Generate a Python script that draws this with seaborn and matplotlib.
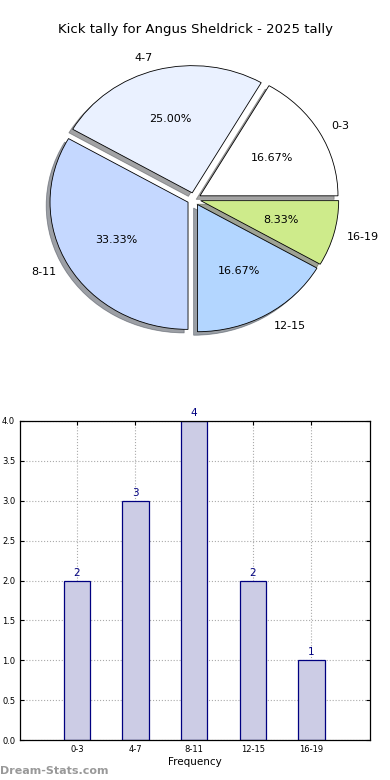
import matplotlib
matplotlib.use("Agg")
import matplotlib.pyplot as plt
import seaborn as sns

# data
categories = ["0-3", "4-7", "8-11", "12-15", "16-19"]
tally = [2, 3, 4, 2, 1]
pie_colors = ["#FFFFFF", "#EAF1FF", "#C5D8FF", "#B3D6FF", "#CEEB8B"]
yticks = [0.0, 0.5, 1.0, 1.5, 2.0, 2.5, 3.0, 3.5, 4.0]

sns.set_style("white")
plt.rcParams["font.family"] = ["DejaVu Sans"]
plt.rcParams["text.color"] = "black"
plt.rcParams["axes.labelcolor"] = "black"
plt.rcParams["xtick.color"] = "black"
plt.rcParams["ytick.color"] = "black"

W, H = 390, 780
fig = plt.figure(figsize=(W / 100, H / 100), dpi=100)

# pie chart (slightly squashed, like the original)
pw, ph = 345, 318
cx, cy = 194, 199
ax1 = fig.add_axes([(cx - pw / 2) / W, (H - cy - ph / 2) / H, pw / W, ph / H])
ax1.pie(tally, labels=categories, colors=pie_colors, explode=[0.05] * 5,
        autopct="%.2f%%", shadow=True, startangle=0,
        wedgeprops=dict(edgecolor="black", linewidth=0.6),
        textprops=dict(fontsize=8))
ax1.set_aspect("auto")
ax1.set_xlim(-1.25, 1.25)
ax1.set_ylim(-1.25, 1.25)
fig.text(0.5, 1 - 30 / H, "Kick tally for Angus Sheldrick - 2025 tally",
         ha="center", va="center", fontsize=9.5)

# bar chart
left, right, top, bottom = 20, 370, 421, 740
ax2 = fig.add_axes([left / W, (H - bottom) / H, (right - left) / W, (bottom - top) / H])
sns.barplot(x=categories, y=tally, ax=ax2, color="#CCCCE5", saturation=1,
            edgecolor="navy", linewidth=0.9, width=0.45, zorder=2)
ax2.set_xlim(-0.97, 5.0)
ax2.set_ylim(0, 4)
ax2.set_yticks(yticks)
ax2.set_yticklabels([f"{v:.1f}" for v in yticks])
ax2.grid(True, linestyle=":", color="#AAAAAA", linewidth=0.8, zorder=0)
ax2.set_axisbelow(True)
for s in ax2.spines.values():
    s.set_color("black")
    s.set_linewidth(0.9)
ax2.tick_params(axis="both", labelsize=6, direction="in", length=3,
                top=True, right=True, bottom=True, left=True)
ax2.set_xlabel("Frequency", fontsize=7.5, labelpad=2)
ax2.set_ylabel("")
for c in ax2.containers:
    ax2.bar_label(c, labels=[str(v) for v in tally], color="navy",
                  fontsize=7.5, padding=2)

fig.text(0.0, 1 - 771 / H, "Dream-Stats.com", ha="left", va="center",
         fontsize=8, color="#999999", fontweight="bold")

fig.savefig("out.png", dpi=100)
